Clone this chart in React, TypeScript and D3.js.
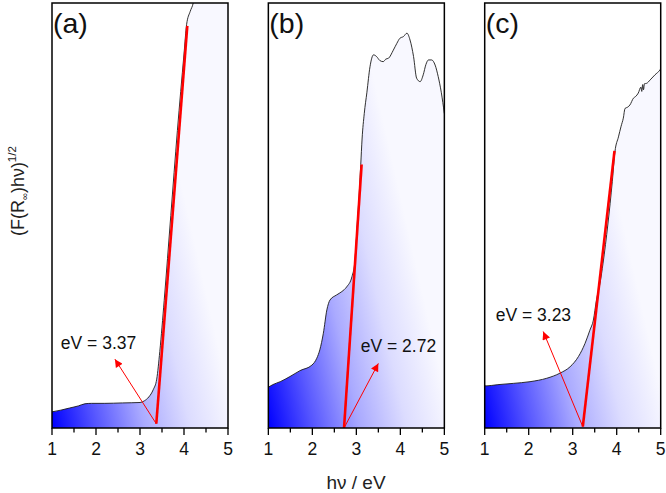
import React from 'react';
import * as d3 from 'd3';

const W = 666;
const H = 493;

const panelNames = ['a', 'b', 'c'];

// Tauc curves: photon energy (eV) and (F(R)hv)^1/2 in arbitrary units
const energyA = [1.0, 1.2, 1.4, 1.6, 1.75, 1.9, 2.2, 2.6, 3.0, 3.1, 3.2, 3.3, 3.38, 3.45, 3.55, 3.7, 3.85, 4.0, 4.06, 4.14, 4.21, 4.3, 4.6, 5.0];
const signalA = [3.8, 4.2, 4.7, 5.2, 5.7, 5.8, 5.8, 5.9, 6.0, 6.4, 7.3, 9.0, 11.5, 18, 30, 50, 70, 88, 95, 98, 100, 106, 115, 120];

const energyB = [1.0, 1.1, 1.27, 1.49, 1.72, 1.99, 2.1, 2.17, 2.25, 2.33, 2.4, 2.55, 2.67, 2.78, 2.9, 2.97, 3.02, 3.07, 3.1, 3.13, 3.18, 3.24, 3.31, 3.39, 3.46, 3.53, 3.61, 3.67, 3.73, 3.84, 3.92, 3.99, 4.07, 4.15, 4.22, 4.3, 4.37, 4.45, 4.52, 4.58, 4.64, 4.71, 4.79, 4.86, 4.93, 5.0];
const signalB = [9.6, 10.2, 10.9, 12.1, 13.5, 14.8, 16.4, 18.4, 22.3, 27.8, 30.1, 31.3, 32.1, 33.2, 35.6, 39.5, 48, 56, 62, 68, 74, 79, 85, 87.8, 87.4, 86.5, 86.2, 86.8, 87, 88.9, 90.5, 91.7, 92.1, 92.9, 91.3, 87.4, 82.3, 81.5, 83.1, 85.5, 86.6, 86.6, 85.4, 82.7, 79, 74];

const energyC = [1.0, 1.02, 1.3, 1.65, 2.03, 2.41, 2.71, 2.94, 3.13, 3.28, 3.39, 3.47, 3.54, 3.62, 3.69, 3.8, 3.9, 3.96, 4.04, 4.1, 4.15, 4.19, 4.25, 4.3, 4.38, 4.43, 4.49, 4.55, 4.57, 4.59, 4.61, 4.63, 4.68, 4.76, 4.87, 4.98, 5.0];
const signalC = [10.1, 9.9, 10.2, 10.5, 10.9, 11.7, 12.9, 14.4, 16.8, 19.9, 23, 25.4, 30.1, 34, 38.8, 48, 58, 65, 68.5, 71, 72.9, 75.2, 75.5, 76, 77.6, 78, 78.8, 80.2, 79.2, 80.8, 79.6, 81.0, 81.1, 81.9, 83.1, 84.2, 84.5];

// linear fits of the absorption edge: [start, end]
const fitEnergyA = [3.37, 4.075];
const fitSignalA = [1, 94.6];
const fitEnergyB = [2.72, 3.12];
const fitSignalB = [0, 62];
const fitEnergyC = [3.23, 3.95];
const fitSignalC = [0.3, 65.2];

// band gap annotations: value, arrow tip and label anchor (data units)
const gapValues = ['3.37', '2.72', '3.23'];
const arrowTips = [[2.43, 16.2], [3.5, 15.2], [2.33, 22.7]];
const labelAnchors = [[1.2, 18.6], [3.1, 18], [1.25, 25.2]];

const xTicks = [1, 2, 3, 4, 5];
const xMinorTicks = [1.5, 2.5, 3.5, 4.5];

const curves = [
  { energy: energyA, signal: signalA, fitE: fitEnergyA, fitS: fitSignalA },
  { energy: energyB, signal: signalB, fitE: fitEnergyB, fitS: fitSignalB },
  { energy: energyC, signal: signalC, fitE: fitEnergyC, fitS: fitSignalC },
];

const top = 3;
const bottom = 428;
const font = '"Liberation Sans", Arial, sans-serif';

export default function App() {
  const band = d3.scaleBand<string>()
    .domain(panelNames)
    .range([52, 660.7])
    .paddingInner(0.1865)
    .paddingOuter(0);

  const y = d3.scaleLinear().domain([0, 100]).range([bottom, top]);

  return (
    <svg width={W} height={H} style={{ position: 'absolute', left: 0, top: 0, background: '#fff' }}>
      <defs>
        <marker id="arrowHead" viewBox="0 0 10 10" refX={10} refY={5}
          markerWidth={10} markerHeight={8} markerUnits="userSpaceOnUse" orient="auto">
          <path d="M0,0 L10,5 L0,10 z" fill="#ff0000" />
        </marker>
      </defs>

      {panelNames.map((name, i) => {
        const left = band(name) as number;
        const right = left + band.bandwidth();
        const x = d3.scaleLinear().domain([1, 5]).range([left, right]);
        const c = curves[i];
        const pts: [number, number][] = c.energy.map((e, k) => [e, c.signal[k]]);

        const area = d3.area<[number, number]>()
          .x(d => x(d[0]))
          .y0(y(0))
          .y1(d => y(d[1]))
          .curve(d3.curveMonotoneX);
        const line = d3.line<[number, number]>()
          .x(d => x(d[0]))
          .y(d => y(d[1]))
          .curve(d3.curveMonotoneX);

        const base: [number, number] = [c.fitE[0], c.fitS[0]];
        const tip = arrowTips[i];
        const lab = labelAnchors[i];

        return (
          <g key={name}>
            <defs>
              <clipPath id={`clip-${name}`}>
                <rect x={left} y={top} width={right - left} height={bottom - top} />
              </clipPath>
              <linearGradient id={`grad-${name}`} gradientUnits="userSpaceOnUse"
                x1={left} y1={bottom} x2={right} y2={bottom - 40}>
                <stop offset="0" stopColor="#0000ff" />
                <stop offset="0.25" stopColor="#5858ff" />
                <stop offset="0.5" stopColor="#aaaaff" />
                <stop offset="0.75" stopColor="#dcdcff" />
                <stop offset="1" stopColor="#f8f8ff" />
              </linearGradient>
            </defs>

            <g clipPath={`url(#clip-${name})`}>
              <path d={area(pts) ?? ''} fill={`url(#grad-${name})`} />
              <path d={line(pts) ?? ''} fill="none" stroke="#1a1a1a" strokeWidth={0.9} />
            </g>

            {/* fitted edge */}
            <line x1={x(c.fitE[0])} y1={y(c.fitS[0])} x2={x(c.fitE[1])} y2={y(c.fitS[1])}
              stroke="#ff0000" strokeWidth={2.6} />

            {/* arrow to the label */}
            <line x1={x(base[0])} y1={y(base[1])} x2={x(tip[0])} y2={y(tip[1])}
              stroke="#ff0000" strokeWidth={1} markerEnd="url(#arrowHead)" />

            <text x={x(lab[0])} y={y(lab[1])} fontFamily={font} fontSize={17.5} fill="#111">
              eV = {gapValues[i]}
            </text>

            {/* frame */}
            <rect x={left} y={top} width={right - left} height={bottom - top}
              fill="none" stroke="#000" strokeWidth={1.5} />

            {xTicks.map(t => (
              <g key={t}>
                <line x1={x(t)} x2={x(t)} y1={bottom} y2={bottom + 7} stroke="#000" strokeWidth={1.3} />
                <text x={x(t)} y={455} textAnchor="middle" fontFamily={font} fontSize={17.5} fill="#111">{t}</text>
              </g>
            ))}
            {xMinorTicks.map(t => (
              <line key={t} x1={x(t)} x2={x(t)} y1={bottom} y2={bottom + 4.5} stroke="#000" strokeWidth={1.3} />
            ))}

            <text x={left + 1} y={33} fontFamily={font} fontSize={28.5} fill="#111">({name})</text>
          </g>
        );
      })}

      <text transform="translate(24,191) rotate(-90)" textAnchor="middle" fontFamily={font} fontSize={18} fill="#222">
        (F(R<tspan fontSize={9.5} dy={4}>∞</tspan><tspan dy={-4}>)hν)</tspan>
        <tspan fontSize={11.5} dy={-8}>1/2</tspan>
      </text>

      <text x={356} y={489} textAnchor="middle" fontFamily={font} fontSize={19} fill="#222">hν / eV</text>
    </svg>
  );
}
